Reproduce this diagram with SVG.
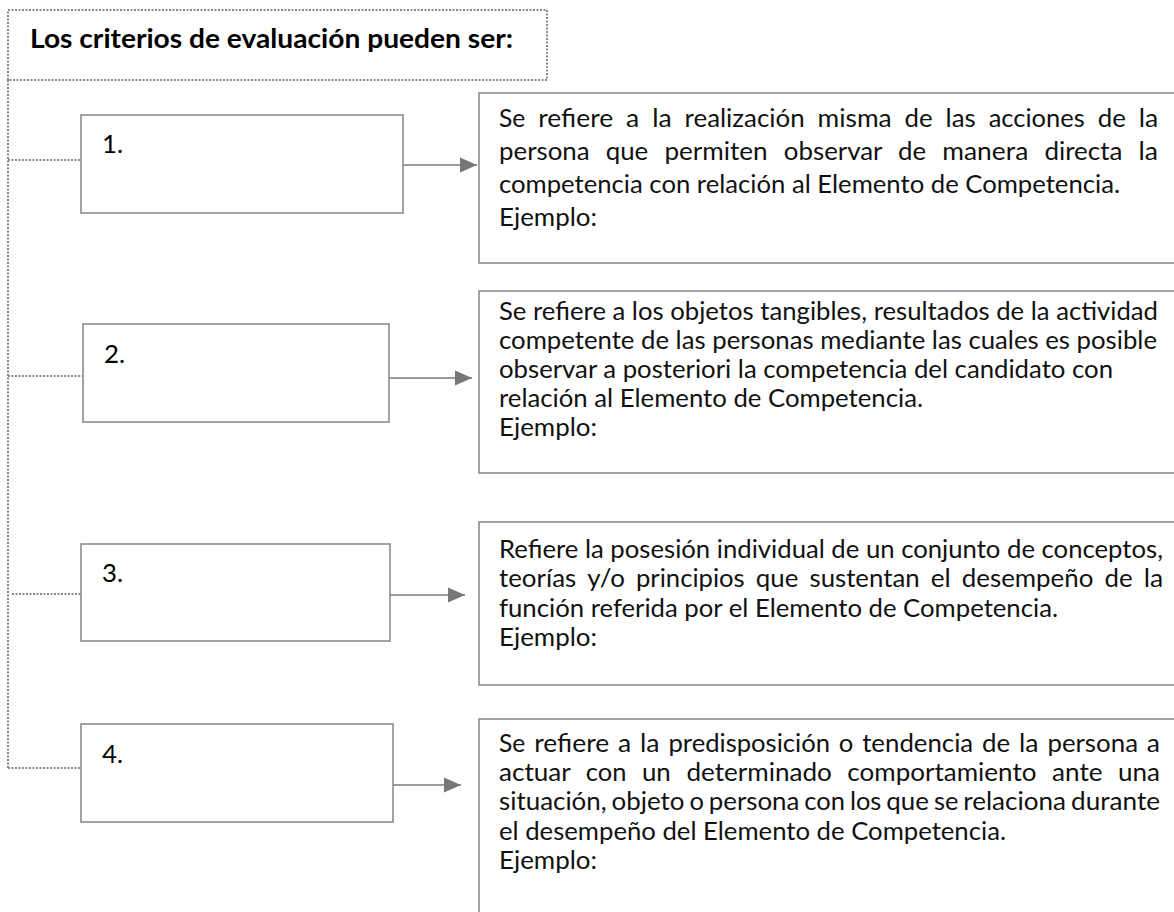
<svg xmlns="http://www.w3.org/2000/svg" width="1174" height="912" viewBox="0 0 1174 912">
<style>
  .dot { fill: none; stroke: #8a8a8a; stroke-width: 2; stroke-dasharray: 2 1.5; }
  .box { fill: #ffffff; stroke: #8c8c8c; stroke-width: 1.6; }
  .conn { fill: none; stroke: #7a7a7a; stroke-width: 1.6; }
  .title { font-family: Lato, "Liberation Sans", sans-serif; font-weight: bold; font-size: 27.5px; fill: #000; }
  .num { font-family: Lato, "Liberation Sans", sans-serif; font-size: 25px; fill: #000; }
  .t { font-family: Lato, "Liberation Sans", sans-serif; font-size: 25px; fill: #111; }
</style>
<defs>
  <marker id="arr" markerUnits="userSpaceOnUse" markerWidth="18" markerHeight="16" refX="17" refY="8" orient="auto">
    <path d="M0,0.5 L17,8 L0,15.5 Z" fill="#777777"/>
  </marker>
</defs>
<rect width="1174" height="912" fill="#ffffff"/>

<g id="title">
  <rect x="8" y="10" width="539" height="70" class="dot"/>
  <text x="30" y="48" class="title" textLength="483" lengthAdjust="spacingAndGlyphs">Los criterios de evaluación pueden ser:</text>
</g>

<g id="connectors">
  <path class="dot" d="M8,80 L8,768"/>
  <path class="dot" d="M8,160 L81,160"/>
  <path class="dot" d="M8,376 L83,376"/>
  <path class="dot" d="M12,594 L81,594"/>
  <path class="dot" d="M8,768 L81,768"/>
  <path class="conn" d="M403,165 L477,165" marker-end="url(#arr)"/>
  <path class="conn" d="M389,378 L472,378" marker-end="url(#arr)"/>
  <path class="conn" d="M390,595 L465,595" marker-end="url(#arr)"/>
  <path class="conn" d="M393,785 L461,785" marker-end="url(#arr)"/>
</g>

<g id="n1">
  <rect x="81" y="115" width="322" height="98" class="box"/>
  <text x="102" y="153" class="num" textLength="21" lengthAdjust="spacingAndGlyphs">1.</text>
</g>
<g id="n2">
  <rect x="83" y="324" width="306" height="98" class="box"/>
  <text x="104" y="363" class="num" textLength="21" lengthAdjust="spacingAndGlyphs">2.</text>
</g>
<g id="n3">
  <rect x="81" y="544" width="309" height="97" class="box"/>
  <text x="102" y="582" class="num" textLength="21" lengthAdjust="spacingAndGlyphs">3.</text>
</g>
<g id="n4">
  <rect x="81" y="724" width="312" height="98" class="box"/>
  <text x="102" y="763" class="num" textLength="21" lengthAdjust="spacingAndGlyphs">4.</text>
</g>

<g id="d1">
  <rect x="479" y="93" width="720" height="170" class="box"/>
  <text class="t" lengthAdjust="spacingAndGlyphs">
    <tspan x="499" y="127" textLength="26.3" lengthAdjust="spacingAndGlyphs">Se</tspan>
    <tspan x="538.2" textLength="75" lengthAdjust="spacingAndGlyphs">refiere</tspan>
    <tspan x="626.1" textLength="13.2" lengthAdjust="spacingAndGlyphs">a</tspan>
    <tspan x="652.2" textLength="19.5" lengthAdjust="spacingAndGlyphs">la</tspan>
    <tspan x="684.6" textLength="120" lengthAdjust="spacingAndGlyphs">realización</tspan>
    <tspan x="817.5" textLength="74.2" lengthAdjust="spacingAndGlyphs">misma</tspan>
    <tspan x="904.6" textLength="28.1" lengthAdjust="spacingAndGlyphs">de</tspan>
    <tspan x="945.6" textLength="30.2" lengthAdjust="spacingAndGlyphs">las</tspan>
    <tspan x="988.7" textLength="96.1" lengthAdjust="spacingAndGlyphs">acciones</tspan>
    <tspan x="1097.7" textLength="28.1" lengthAdjust="spacingAndGlyphs">de</tspan>
    <tspan x="1138.7" textLength="19.5" lengthAdjust="spacingAndGlyphs">la</tspan>
  </text>
  <text class="t">
    <tspan x="499" y="160" textLength="90.6" lengthAdjust="spacingAndGlyphs">persona</tspan>
    <tspan x="605.7" textLength="42.6" lengthAdjust="spacingAndGlyphs">que</tspan>
    <tspan x="664.4" textLength="103.3" lengthAdjust="spacingAndGlyphs">permiten</tspan>
    <tspan x="783.8" textLength="98.2" lengthAdjust="spacingAndGlyphs">observar</tspan>
    <tspan x="898.1" textLength="28.1" lengthAdjust="spacingAndGlyphs">de</tspan>
    <tspan x="942.3" textLength="86" lengthAdjust="spacingAndGlyphs">manera</tspan>
    <tspan x="1044.4" textLength="78" lengthAdjust="spacingAndGlyphs">directa</tspan>
    <tspan x="1138.5" textLength="19.5" lengthAdjust="spacingAndGlyphs">la</tspan>
  </text>
  <text x="499" y="193" class="t" textLength="621" lengthAdjust="spacingAndGlyphs">competencia con relación al Elemento de Competencia.</text>
  <text x="499" y="226" class="t" textLength="98" lengthAdjust="spacingAndGlyphs">Ejemplo:</text>
</g>

<g id="d2">
  <rect x="479" y="291" width="720" height="182" class="box"/>
  <text x="499" y="320" class="t" textLength="659" lengthAdjust="spacingAndGlyphs">Se refiere a los objetos tangibles, resultados de la actividad</text>
  <text x="499" y="349" class="t" textLength="658" lengthAdjust="spacingAndGlyphs">competente de las personas mediante las cuales es posible</text>
  <text x="499" y="378" class="t" textLength="614" lengthAdjust="spacingAndGlyphs">observar a posteriori la competencia del candidato con</text>
  <text x="499" y="407" class="t" textLength="424" lengthAdjust="spacingAndGlyphs">relación al Elemento de Competencia.</text>
  <text x="499" y="436" class="t" textLength="98" lengthAdjust="spacingAndGlyphs">Ejemplo:</text>
</g>

<g id="d3">
  <rect x="479" y="522" width="720" height="163" class="box"/>
  <text x="499" y="558" class="t" textLength="664" lengthAdjust="spacingAndGlyphs">Refiere la posesión individual de un conjunto de conceptos,</text>
  <text class="t">
    <tspan x="499" y="587" textLength="77.2" lengthAdjust="spacingAndGlyphs">teorías</tspan>
    <tspan x="587.3" textLength="37.6" lengthAdjust="spacingAndGlyphs">y/o</tspan>
    <tspan x="636" textLength="108.7" lengthAdjust="spacingAndGlyphs">principios</tspan>
    <tspan x="755.8" textLength="42.6" lengthAdjust="spacingAndGlyphs">que</tspan>
    <tspan x="809.5" textLength="110.1" lengthAdjust="spacingAndGlyphs">sustentan</tspan>
    <tspan x="930.7" textLength="20" lengthAdjust="spacingAndGlyphs">el</tspan>
    <tspan x="961.8" textLength="131.6" lengthAdjust="spacingAndGlyphs">desempeño</tspan>
    <tspan x="1104.5" textLength="28.1" lengthAdjust="spacingAndGlyphs">de</tspan>
    <tspan x="1143.7" textLength="19.5" lengthAdjust="spacingAndGlyphs">la</tspan>
  </text>
  <text x="499" y="617" class="t" textLength="559" lengthAdjust="spacingAndGlyphs">función referida por el Elemento de Competencia.</text>
  <text x="499" y="646" class="t" textLength="98" lengthAdjust="spacingAndGlyphs">Ejemplo:</text>
</g>

<g id="d4">
  <rect x="479" y="719" width="720" height="210" class="box"/>
  <text class="t">
    <tspan x="499" y="752" textLength="26.3" lengthAdjust="spacingAndGlyphs">Se</tspan>
    <tspan x="534.2" textLength="75" lengthAdjust="spacingAndGlyphs">refiere</tspan>
    <tspan x="618" textLength="13.2" lengthAdjust="spacingAndGlyphs">a</tspan>
    <tspan x="640.1" textLength="19.5" lengthAdjust="spacingAndGlyphs">la</tspan>
    <tspan x="668.5" textLength="161.5" lengthAdjust="spacingAndGlyphs">predisposición</tspan>
    <tspan x="838.8" textLength="14.5" lengthAdjust="spacingAndGlyphs">o</tspan>
    <tspan x="862.2" textLength="111" lengthAdjust="spacingAndGlyphs">tendencia</tspan>
    <tspan x="982" textLength="28.1" lengthAdjust="spacingAndGlyphs">de</tspan>
    <tspan x="1019" textLength="19.5" lengthAdjust="spacingAndGlyphs">la</tspan>
    <tspan x="1047.4" textLength="90.6" lengthAdjust="spacingAndGlyphs">persona</tspan>
    <tspan x="1146.8" textLength="13.2" lengthAdjust="spacingAndGlyphs">a</tspan>
  </text>
  <text class="t">
    <tspan x="499" y="781" textLength="71.2" lengthAdjust="spacingAndGlyphs">actuar</tspan>
    <tspan x="585.8" textLength="40.6" lengthAdjust="spacingAndGlyphs">con</tspan>
    <tspan x="641.9" textLength="28.9" lengthAdjust="spacingAndGlyphs">un</tspan>
    <tspan x="686.4" textLength="145.4" lengthAdjust="spacingAndGlyphs">determinado</tspan>
    <tspan x="847.3" textLength="189.1" lengthAdjust="spacingAndGlyphs">comportamiento</tspan>
    <tspan x="1052" textLength="50.5" lengthAdjust="spacingAndGlyphs">ante</tspan>
    <tspan x="1118" textLength="42" lengthAdjust="spacingAndGlyphs">una</tspan>
  </text>
  <text class="t">
    <tspan x="499" y="810" textLength="107.6" lengthAdjust="spacingAndGlyphs">situación,</tspan>
    <tspan x="611.5" textLength="72.9" lengthAdjust="spacingAndGlyphs">objeto</tspan>
    <tspan x="689.4" textLength="14.5" lengthAdjust="spacingAndGlyphs">o</tspan>
    <tspan x="708.8" textLength="90.6" lengthAdjust="spacingAndGlyphs">persona</tspan>
    <tspan x="804.3" textLength="40.6" lengthAdjust="spacingAndGlyphs">con</tspan>
    <tspan x="849.9" textLength="31.5" lengthAdjust="spacingAndGlyphs">los</tspan>
    <tspan x="886.3" textLength="42.6" lengthAdjust="spacingAndGlyphs">que</tspan>
    <tspan x="933.9" textLength="24.4" lengthAdjust="spacingAndGlyphs">se</tspan>
    <tspan x="963.2" textLength="102.8" lengthAdjust="spacingAndGlyphs">relaciona</tspan>
    <tspan x="1071" textLength="89" lengthAdjust="spacingAndGlyphs">durante</tspan>
  </text>
  <text x="499" y="840" class="t" textLength="507" lengthAdjust="spacingAndGlyphs">el desempeño del Elemento de Competencia.</text>
  <text x="499" y="869" class="t" textLength="98" lengthAdjust="spacingAndGlyphs">Ejemplo:</text>
</g>
</svg>
